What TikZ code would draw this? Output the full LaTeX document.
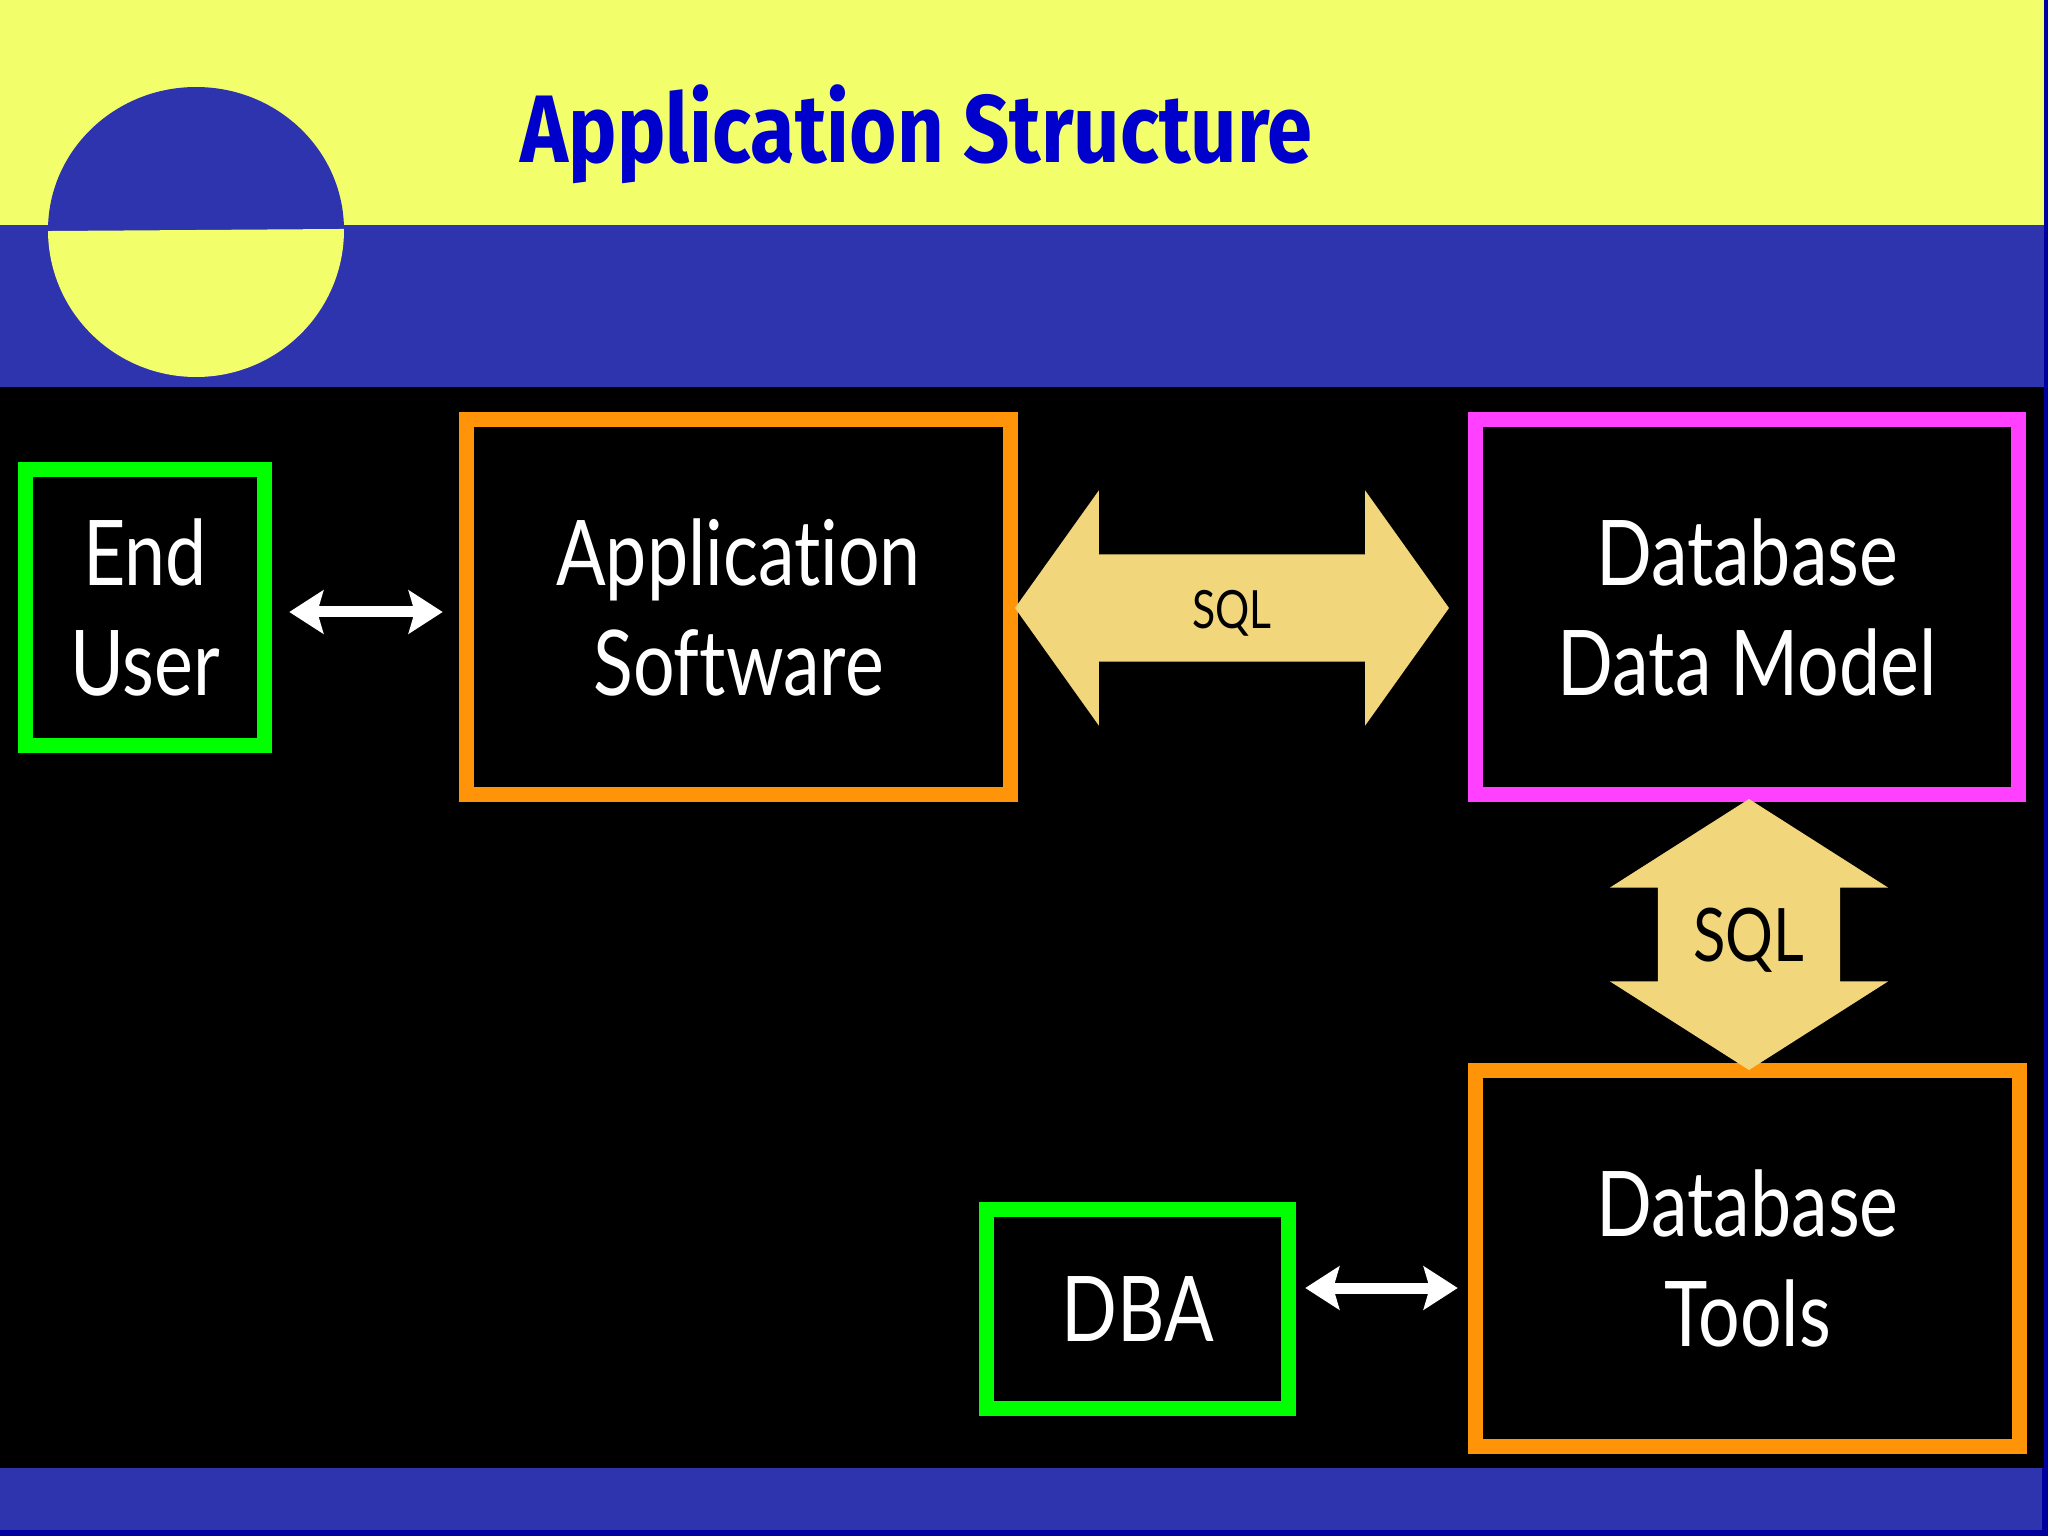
\documentclass[tikz,border=0pt]{standalone}
\usepackage{fontspec}
\usepackage{xcolor}
\usetikzlibrary{arrows.meta,positioning,shapes.arrows}

\newfontfamily\boxfont[FakeStretch=0.81,Ligatures=NoCommon]{Lato}
\newfontfamily\headfont[FakeStretch=0.847]{Fira Sans}

\definecolor{bandyellow}{HTML}{F3FF6A}
\definecolor{bandblue}{HTML}{2E33AE}
\definecolor{headblue}{HTML}{0000CC}
\definecolor{edgeblue}{HTML}{0000A0}
\definecolor{boxorange}{HTML}{FF9408}
\definecolor{boxgreen}{HTML}{00FF00}
\definecolor{boxpink}{HTML}{FF40FF}
\definecolor{sqltan}{HTML}{F2D67C}

\tikzset{
  box/.style={draw=#1, fill=black, text=white, line width=0.155cm, inner sep=0pt,
    align=center, font=\boxfont\fontsize{25.8pt}{31.3pt}\selectfont},
  sqlarrow/.style={double arrow, fill=sqltan, text=black, inner sep=0pt},
  linkarrow/.style={{Stealth[length=0.34cm,width=0.43cm,inset=0.06cm]}-{Stealth[length=0.34cm,width=0.43cm,inset=0.06cm]},
    white, line width=0.11cm},
}

\begin{document}
\begin{tikzpicture}
    \useasboundingbox (0,0) rectangle (20.48,-15.36);

    % Page bands
    \fill[edgeblue] (0,0) rectangle (20.48,-15.36);
    \fill[bandyellow] (0,0) rectangle (20.44,-2.25);
    \fill[bandblue] (0,-2.25) rectangle (20.44,-3.87);
    \fill[black] (0,-3.87) rectangle (20.44,-14.68);
    \fill[bandblue] (0,-14.68) rectangle (20.42,-15.30);

    % Disc split in two halves
    \begin{scope}[rotate around={0.4:(1.96,-2.30)}]
      \fill[bandblue] (0.48,-2.30) arc[start angle=180, end angle=0, x radius=1.48, y radius=1.43] -- cycle;
      \fill[bandyellow] (0.48,-2.30) arc[start angle=180, end angle=360, x radius=1.48, y radius=1.47] -- cycle;
    \end{scope}

    % Title
    \node[text=headblue, anchor=base west, inner sep=0pt,
      font=\headfont\bfseries\fontsize{27.3pt}{30pt}\selectfont] (title) at (5.20,-1.63) {Application Structure};

    % Boxes
    \node[box=boxgreen, minimum width=2.39cm, minimum height=2.76cm] (user) at (1.45,-6.075) {End\\User};
    \node[box=boxorange, minimum width=5.44cm, minimum height=3.75cm] (app) at (7.385,-6.07) {Application\\Software};
    \node[box=boxpink, minimum width=5.43cm, minimum height=3.75cm] (model) at (17.47,-6.07) {Database\\Data Model};
    \node[box=boxorange, minimum width=5.44cm, minimum height=3.76cm] (tools) at (17.475,-12.585) {Database\\Tools};
    \node[box=boxgreen, minimum width=3.02cm, minimum height=1.99cm] (dba) at (11.375,-13.09) {DBA};

    % SQL arrows
    \node[sqlarrow, minimum height=4.34cm, minimum width=2.34cm,
      double arrow head extend=0.64cm, double arrow tip angle=109,
      text height=0.74cm, text depth=0.32cm,
      font=\boxfont\fontsize{15pt}{18pt}\selectfont] (sqlh) at (12.32,-6.08) {SQL};
    \node[sqlarrow, shape border rotate=90, minimum height=2.71cm, minimum width=2.77cm,
      double arrow head extend=0.48cm, double arrow tip angle=115,
      text width=1.81cm, align=center, text height=0.8cm, text depth=0.25cm,
      font=\boxfont\fontsize{21pt}{24pt}\selectfont] (sqlv) at (17.49,-9.345) {SQL};

    % White arrows
    \coordinate (userlink) at (0,-6.12);
    \coordinate (dbalink) at (0,-12.88);
    \draw[linkarrow, shorten <=0.17cm, shorten >=0.16cm] (user.east |- userlink) -- (app.west |- userlink);
    \draw[linkarrow, shorten <=0.09cm, shorten >=0.10cm] (dba.east |- dbalink) -- (tools.west |- dbalink);
\end{tikzpicture}
\end{document}
